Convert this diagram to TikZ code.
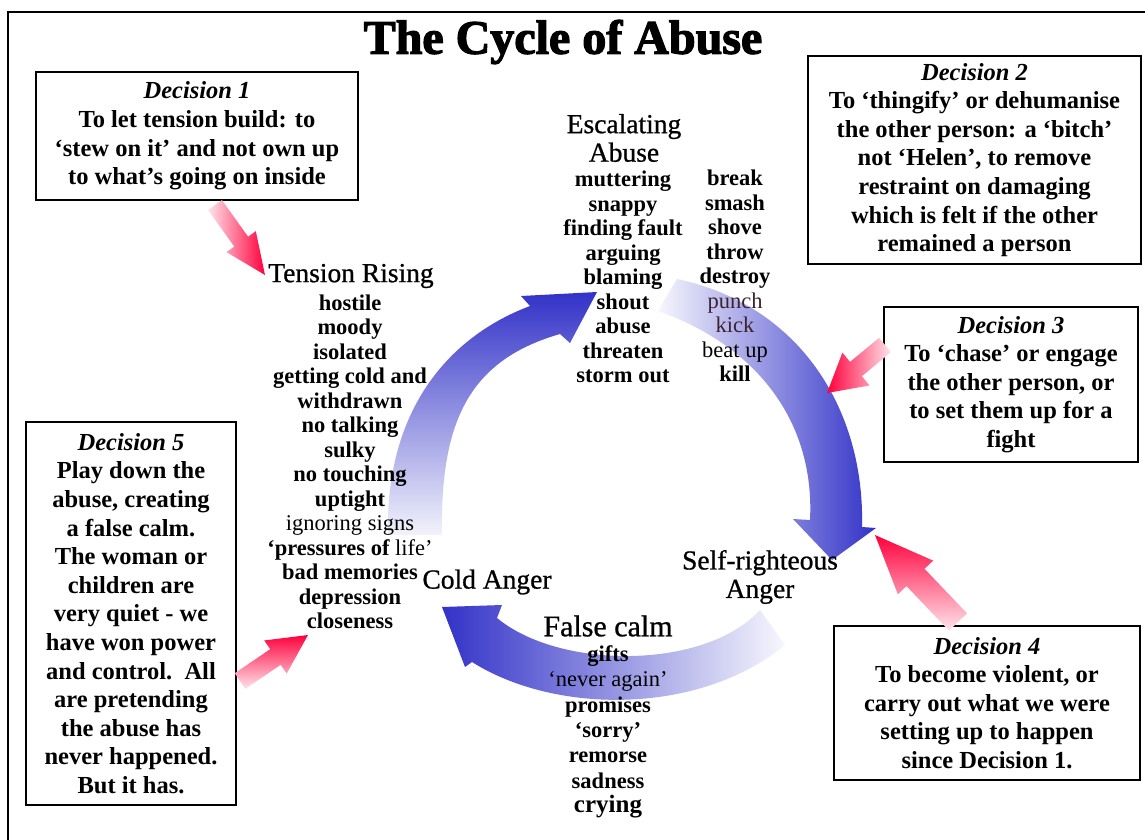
\documentclass[tikz,border=0pt]{standalone}
\usepackage{fontspec}
\setmainfont{Liberation Serif}
\newfontfamily\titlefont[BoldFeatures={FakeBold=2.5}]{Liberation Serif}
\newfontfamily\headfont[FakeBold=0.8]{Liberation Serif}
\usetikzlibrary{calc}
\definecolor{cycblue}{RGB}{50,50,200}
\definecolor{arred}{RGB}{255,0,60}
\definecolor{arpink}{RGB}{255,228,235}
\definecolor{softtext}{RGB}{60,35,50}
\newcommand\redarrow[6]{%
  \coordinate (rb) at ($(#2)!#5!(#1)$);
  \shade[#6] ($(#1)!#3!90:(#2)$) -- ($(rb)!#3!90:(#2)$) -- ($(rb)!#4!90:(#2)$) -- (#2)
    -- ($(rb)!#4!-90:(#2)$) -- ($(rb)!#3!-90:(#2)$) -- ($(#1)!#3!-90:(#2)$) -- cycle;}
\tikzset{
  decbox/.style={draw=black, line width=1.6pt, inner sep=0pt, align=center,
    font=\fontsize{24.5}{28.6}\selectfont\bfseries},
  cychead/.style={inner sep=0pt, align=center, font=\headfont\fontsize{27.5}{28.5}\selectfont},
  cycitem/.style={inner sep=0pt, align=center, font=\fontsize{22.5}{24.5}\selectfont\bfseries},
}
\begin{document}
\begin{tikzpicture}[x=1pt, y=-1pt]
\useasboundingbox (0,0) rectangle (1145,840);
\clip (0,0) rectangle (1145,840);
\fill[white] (0,0) rectangle (1145,840);
\draw[line width=1.5pt] (8,12) rectangle (1180,880);

% title
\node (title) at (563,42) {\titlefont\bfseries\fontsize{48}{48}\selectfont The Cycle of Abuse};

% blue cycle arrows
\shade[top color=cycblue, bottom color=cycblue!6]
  (388,535) .. controls (385,420) and (440,340) .. (530,306) -- (521,296) -- (597,292)
  -- (570,343) -- (560,334) .. controls (470,360) and (440,420) .. (442,535) -- cycle;
\shade[left color=cycblue!4, right color=cycblue]
  (677,279) .. controls (800,305) and (865,410) .. (862,527) -- (876,528) -- (832,560)
  -- (793,519) -- (810,520) .. controls (815,420) and (755,345) .. (658,311) -- cycle;
\shade[left color=cycblue, right color=cycblue!4]
  (760,610) -- (785,645) .. controls (700,715) and (556,715) .. (472,662) -- (465,667)
  -- (442,607) -- (502,605) -- (497,618) .. controls (560,670) and (705,670) .. (760,610) -- cycle;

% decision boxes
\node[decbox, minimum width=322pt, minimum height=128pt] (d1) at (197,136)
  {\textit{Decision 1}\\To let tension build: to\\‘stew on it’ and not own up\\to what’s going on inside};
\node[decbox, minimum width=333pt, minimum height=208pt] (d2) at (974.5,160)
  {\textit{Decision 2}\\To ‘thingify’ or dehumanise\\the other person: a ‘bitch’\\not ‘Helen’, to remove\\restraint on damaging\\which is felt if the other\\remained a person};
\node[decbox, minimum width=254pt, minimum height=155pt] (d3) at (1011,384.5)
  {\textit{Decision 3}\\To ‘chase’ or engage\\the other person, or\\to set them up for a\\fight};
\node[decbox, minimum width=306pt, minimum height=154pt] (d4) at (987,703)
  {\textit{Decision 4}\\To become violent, or\\carry out what we were\\setting up to happen\\since Decision 1.};
\node[decbox, minimum width=210pt, minimum height=383pt] (d5) at (131,613.5)
  {\textit{Decision 5}\\Play down the\\abuse, creating\\a false calm.\\The woman or\\children are\\very quiet - we\\have won power\\and control.\ \ All\\are pretending\\the abuse has\\never happened.\\But it has.};

% red decision arrows
\coordinate (t1) at (215,205); \coordinate (h1) at (265,275);
\redarrow{t1}{h1}{8.5pt}{18pt}{41pt}{left color=arpink, right color=arred}
\coordinate (t3) at (885,345); \coordinate (h3) at (827,393);
\redarrow{t3}{h3}{9.3pt}{21.3pt}{37.6pt}{left color=arred, right color=arpink}
\coordinate (t4) at (958,622); \coordinate (h4) at (875,535);
\redarrow{t4}{h4}{12.5pt}{24.4pt}{58.7pt}{top color=arred, bottom color=arpink}
\coordinate (t5) at (240,681); \coordinate (h5) at (308,635);
\redarrow{t5}{h5}{9.4pt}{20pt}{39.3pt}{top color=arred, bottom color=arpink}

% cycle texts
\node[cychead] (tr) at (351,276) {Tension Rising};
\node[cycitem] (tri) at (350,462) {hostile\\moody\\isolated\\getting cold and\\withdrawn\\no talking\\sulky\\no touching\\uptight\\{\mdseries ignoring signs}\\‘pressures of {\mdseries life’}\\bad memories\\depression\\closeness};
\node[cychead] (ea) at (624,138) {Escalating\\Abuse};
\node[cycitem] (ea1) at (623,277) {muttering\\snappy\\finding fault\\arguing\\blaming\\shout\\abuse\\threaten\\storm out};
\node[cycitem] (ea2) at (735,276) {break\\smash\\shove\\throw\\destroy\\{\mdseries\color{softtext}punch}\\{\mdseries\color{softtext}kick}\\{\mdseries beat up}\\kill};
\node[cychead] (sr) at (760,577) {Self-righteous\\Anger};
\node[cychead] (ca) at (487,582) {Cold Anger};
\node[cychead, font=\headfont\fontsize{30}{30}\selectfont] (fc) at (608,626) {False calm};
\node[cycitem, font=\fontsize{22.5}{25.4}\selectfont\bfseries] (fci) at (608,717)
  {gifts\\{\mdseries ‘never again’}\\promises\\‘sorry’\\remorse\\sadness};
\node[cycitem, font=\fontsize{25}{25}\selectfont\bfseries] (cry) at (608,807) {crying};
\end{tikzpicture}
\end{document}
